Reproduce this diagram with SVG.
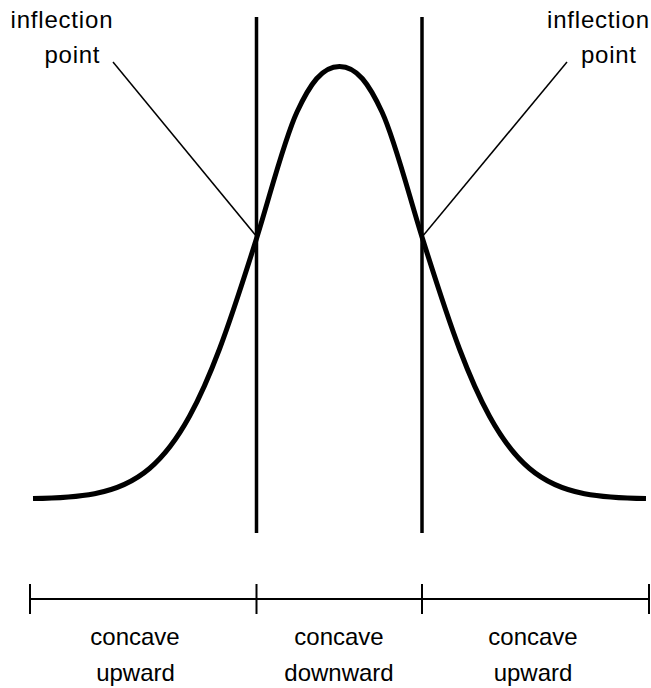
<svg xmlns="http://www.w3.org/2000/svg" width="651" height="688" viewBox="0 0 651 688">
<style>
text{font-family:"Liberation Sans",Arial,sans-serif;font-size:24px;fill:#000;text-anchor:middle}
.curve{fill:none;stroke:#000;stroke-width:5;stroke-linejoin:round;stroke-linecap:butt}
.vline{stroke:#000;stroke-width:3.5}
.leader{stroke:#000;stroke-width:1.5}
.axis{stroke:#000;stroke-width:2}
</style>
<rect width="651" height="688" fill="#fff"/>
<g id="connectors">
<line class="leader" x1="113" y1="62" x2="257" y2="237"/>
<line class="leader" x1="567" y1="62" x2="422" y2="237"/>
</g>
<g id="curve">
<path class="curve" d="M33,498.6 C53.5,498.2 74,497.6 94.5,493.7 C112.83,490.23 131.17,484.09 149.5,468.5 C162.83,457.16 176.17,440.61 189.5,416.3 C199.5,398.07 209.5,375.45 219.5,349 C232,315.94 244.5,276.7 257,237 C269.6,197 284,140 297,112 C310,84 322,66.5 339.5,66.5 C357,66.5 369,84 382,112 C395,140 409.4,197 422,237 C434.5,276.7 447,315.94 459.5,349 C469.5,375.45 479.5,398.07 489.5,416.3 C502.83,440.61 516.17,457.16 529.5,468.5 C547.83,484.09 566.17,490.23 584.5,493.7 C605,497.6 625.5,498.2 646,498.6"/>
</g>
<g id="verticals">
<line class="vline" x1="256.5" y1="17" x2="256.5" y2="533"/>
<line class="vline" x1="422" y1="17" x2="422" y2="533"/>
</g>
<g id="label-left">
<text x="61.5" y="28" textLength="102" lengthAdjust="spacing">inflection</text>
<text x="72" y="63" textLength="55" lengthAdjust="spacing">point</text>
</g>
<g id="label-right">
<text x="598" y="28" textLength="102" lengthAdjust="spacing">inflection</text>
<text x="608.5" y="63" textLength="55" lengthAdjust="spacing">point</text>
</g>
<g id="axis">
<line class="axis" x1="30" y1="599" x2="649" y2="599"/>
<line class="axis" x1="30" y1="584" x2="30" y2="614"/>
<line class="axis" x1="256.5" y1="584" x2="256.5" y2="614"/>
<line class="axis" x1="422" y1="584" x2="422" y2="614"/>
<line class="axis" x1="649" y1="584" x2="649" y2="614"/>
</g>
<g id="region-left">
<text x="135" y="645">concave</text>
<text x="135.5" y="681">upward</text>
</g>
<g id="region-middle">
<text x="339" y="645">concave</text>
<text x="339" y="681">downward</text>
</g>
<g id="region-right">
<text x="533" y="645">concave</text>
<text x="533" y="681">upward</text>
</g>
</svg>
